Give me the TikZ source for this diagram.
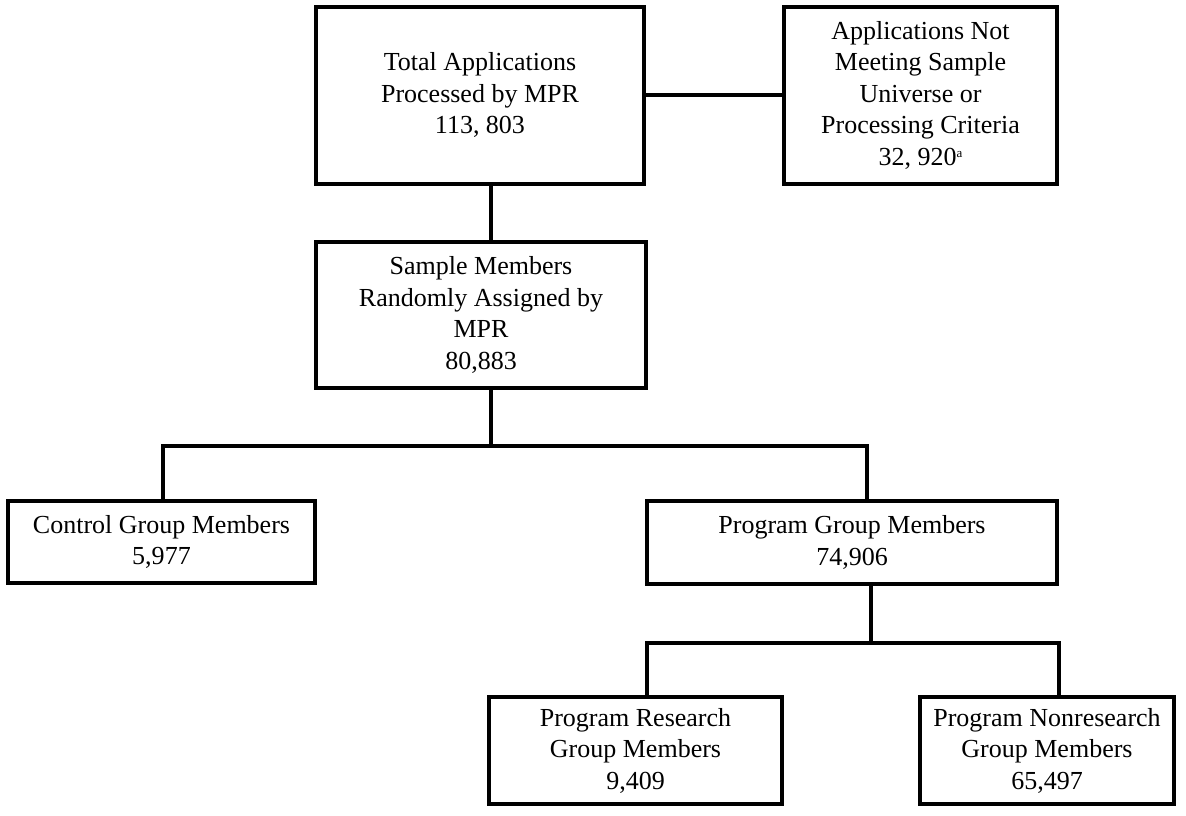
\documentclass[tikz,border=0pt]{standalone}
\usepackage{fontspec}
\setmainfont{Liberation Serif}

\begin{document}
\begin{tikzpicture}[x=1pt,y=-1pt,line width=4pt,
  box/.style={draw,rectangle,inner sep=0pt,outer sep=0pt,align=center,
    font=\fontsize{26}{31.5}\selectfont}]
\useasboundingbox (0,0) rectangle (1186,815);
\node[box,minimum width=328pt,minimum height=177pt] (total) at (480,95)
  {Total Applications\\Processed by MPR\\113, 803};
\node[box,minimum width=273pt,minimum height=177pt] (excluded) at (920.5,95)
  {Applications Not\\Meeting Sample\\Universe or\\Processing Criteria\\32, 920\raisebox{8pt}{\fontsize{13}{13}\selectfont a}};
\node[box,minimum width=330pt,minimum height=146pt] (sample) at (481,315)
  {Sample Members\\Randomly Assigned by\\MPR\\80,883};
\node[box,minimum width=307pt,minimum height=82pt] (control) at (161.5,542)
  {Control Group Members\\5,977};
\node[box,minimum width=410pt,minimum height=83pt] (program) at (852,542.5)
  {Program Group Members\\74,906};
\node[box,minimum width=293pt,minimum height=107pt] (research) at (635.5,750.5)
  {Program Research\\Group Members\\9,409};
\node[box,minimum width=254pt,minimum height=107pt] (nonresearch) at (1047,750.5)
  {Program Nonresearch\\Group Members\\65,497};
\coordinate (split1) at (491,446);
\coordinate (split2) at (871,643);
\draw (total.east) -- (excluded.west);
\draw ([xshift=11pt]total.south) -- ([xshift=10pt]sample.north);
\draw ([xshift=10pt]sample.south) -- (split1);
\draw ([xshift=1.5pt]control.north) |- (split1) -| ([xshift=15pt]program.north);
\draw ([xshift=19pt]program.south) -- (split2);
\draw ([xshift=11.5pt]research.north) |- (split2) -| ([xshift=12pt]nonresearch.north);
\end{tikzpicture}
\end{document}
